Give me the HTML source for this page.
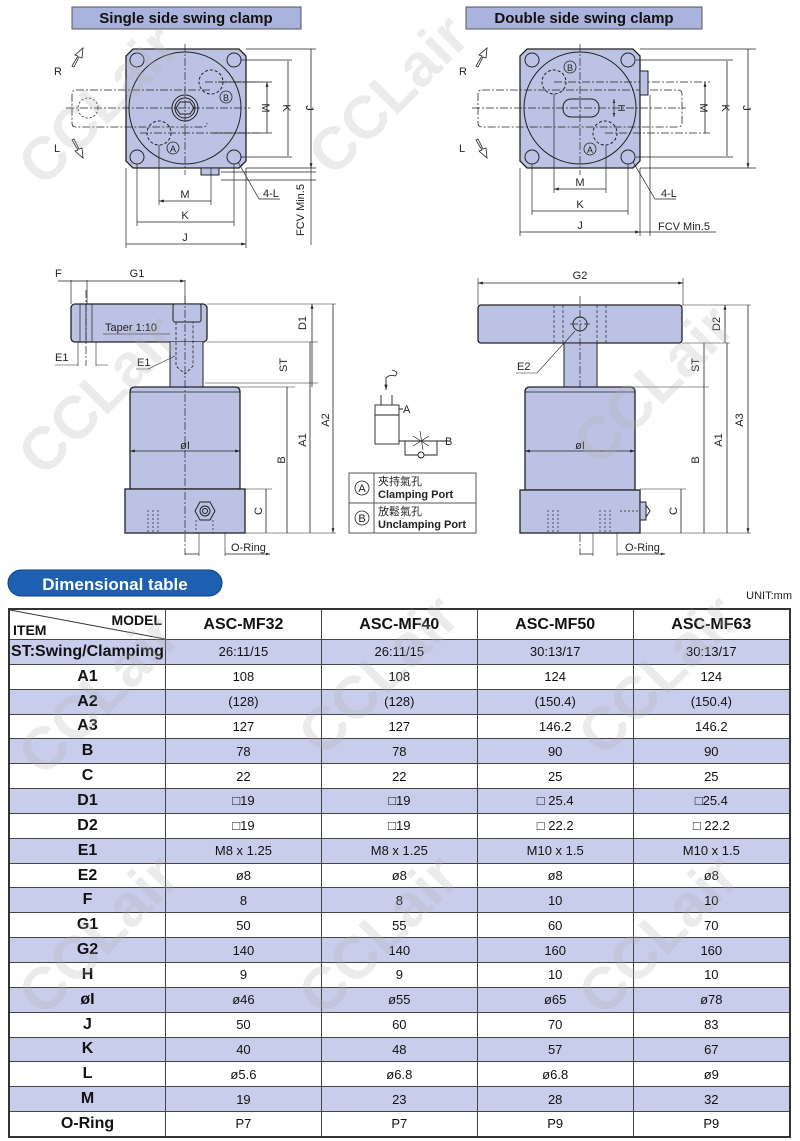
<!DOCTYPE html>
<html><head><meta charset="utf-8">
<style>
body{margin:0;background:#fff;width:800px;height:1141px;overflow:hidden;position:relative;font-family:"Liberation Sans",sans-serif}
svg{position:absolute;left:0;top:0}
.wm{position:absolute;font:bold 60px "Liberation Sans",sans-serif;color:rgba(175,175,175,0.25);transform:rotate(-45deg);white-space:nowrap}
table{position:absolute;left:8px;top:608px;width:783px;border-collapse:collapse;border:2px solid #333}
td{border:1px solid #444;text-align:center;height:23.85px;padding:0;font-size:13px;color:#111}
td.i{font-weight:bold;font-size:16px;width:155px}
tr.b td{background:#c8cdeb}
tr.h td{height:29px;font-weight:bold;font-size:16px}
</style></head><body>
<svg width="800" height="1141" viewBox="0 0 800 1141" font-family="Liberation Sans, sans-serif" font-size="11" fill="none" stroke="#222">
<defs>
<marker id="a" viewBox="0 0 10 10" refX="10" refY="5" markerWidth="6" markerHeight="6" orient="auto-start-reverse"><path d="M0,2L10,5L0,8z" fill="#222" stroke="none"/></marker>
</defs>
<rect x="72" y="7" width="229" height="22" fill="#a9b3de" stroke="#555"/>
<text x="186" y="23" text-anchor="middle" font-size="15" font-weight="bold" fill="#111" stroke="none">Single side swing clamp</text>
<rect x="466" y="7" width="236" height="22" fill="#a9b3de" stroke="#555"/>
<text x="584" y="23" text-anchor="middle" font-size="15" font-weight="bold" fill="#111" stroke="none">Double side swing clamp</text>

<g stroke-width="1">
<path d="M133,49H239L246,56V161L239,168H133L126,161V56Z" fill="#bcc2e3" stroke="#222" stroke-width="1.3"/>
<circle cx="185" cy="108" r="56"/>
<g fill="none"><circle cx="137" cy="60" r="7"/><circle cx="234" cy="60" r="7"/><circle cx="137" cy="157" r="7"/><circle cx="234" cy="157" r="7"/></g>
<circle cx="185" cy="108" r="13"/><circle cx="185" cy="108" r="10"/><path d="M180,102h10l4,6l-4,6h-10l-4,-6z"/>
<circle cx="159" cy="133" r="12" stroke-dasharray="3,2"/><circle cx="211" cy="82" r="12" stroke-dasharray="3,2"/>
<circle cx="173" cy="148" r="6" stroke-width="0.8"/><text x="173" y="152" font-size="9" text-anchor="middle" fill="#222" stroke="none">A</text>
<circle cx="226" cy="97" r="6" stroke-width="0.8"/><text x="226" y="101" font-size="9" text-anchor="middle" fill="#222" stroke="none">B</text>
<path d="M210,90H76Q72,90 72,94V123Q72,127 76,127H203Q207,127 207,123" stroke-dasharray="8,2,2,2" stroke-width="0.8"/>
<circle cx="88" cy="108" r="10" stroke-dasharray="2,2" stroke-width="0.8"/>
<path d="M66,108H250M185,44V175M140,133H262M205,82H262" stroke-dasharray="8,2,2,2" stroke-width="0.7"/>
<rect x="201" y="168" width="18" height="7" fill="#bcc2e3"/>
<path d="M72,66l6,-10l-3,-1l8,-7l-1,10l-3,-1l-5,10z" stroke-width="0.8"/><text x="54" y="75" font-size="11" fill="#222" stroke="none">R</text>
<path d="M72,140l6,10l-3,1l8,7l-1,-10l-3,1l-5,-10z" stroke-width="0.8"/><text x="54" y="152" font-size="11" fill="#222" stroke="none">L</text>
<path d="M246,49H316M241,60H292M218,82H272M213,133H272M241,157H292M246,168H316M221,172H316M221,180H316" stroke-width="0.7"/>
<path d="M267,82V133M288,61V156M311,49V168" marker-start="url(#a)" marker-end="url(#a)" stroke-width="0.8"/>
<text x="0" y="0" transform="translate(262,108) rotate(90)" text-anchor="middle" font-size="11" fill="#222" stroke="none">M</text>
<text x="0" y="0" transform="translate(283,108) rotate(90)" text-anchor="middle" font-size="11" fill="#222" stroke="none">K</text>
<text x="0" y="0" transform="translate(306,108) rotate(90)" text-anchor="middle" font-size="11" fill="#222" stroke="none">J</text>
<path d="M311,168V245" stroke-width="0.7"/>
<text x="0" y="0" transform="translate(304,210) rotate(-90)" text-anchor="middle" font-size="11" fill="#222" stroke="none">FCV Min.5</text>
<path d="M159,145V205M211,168V205M137,164V226M234,164V226M126,168V248M246,168V248" stroke-width="0.7"/>
<path d="M159,201H211M137,222H234M126,244H246" marker-start="url(#a)" marker-end="url(#a)" stroke-width="0.8"/>
<text x="185" y="198" text-anchor="middle" fill="#222" stroke="none">M</text>
<text x="185" y="219" text-anchor="middle" fill="#222" stroke="none">K</text>
<text x="185" y="241" text-anchor="middle" fill="#222" stroke="none">J</text>
<path d="M238,162L259,199H280" stroke-width="0.7"/><text x="263" y="197" fill="#222" stroke="none">4-L</text>
</g>

<g stroke-width="1">
<path d="M527,49H633L640,56V161L633,168H527L520,161V56Z" fill="#bcc2e3" stroke="#222" stroke-width="1.3"/>
<circle cx="580" cy="108" r="56"/>
<circle cx="532" cy="60" r="7"/><circle cx="628" cy="60" r="7"/><circle cx="532" cy="157" r="7"/><circle cx="628" cy="157" r="7"/>
<rect x="563" y="99" width="36" height="18" rx="8"/>
<circle cx="554" cy="82" r="12" stroke-dasharray="3,2"/><circle cx="605" cy="133" r="12" stroke-dasharray="3,2"/>
<circle cx="570" cy="67" r="6" stroke-width="0.8"/><text x="570" y="71" font-size="9" text-anchor="middle" fill="#222" stroke="none">B</text>
<circle cx="590" cy="149" r="6" stroke-width="0.8"/><text x="590" y="153" font-size="9" text-anchor="middle" fill="#222" stroke="none">A</text>
<path d="M482,90H678Q682,90 682,94V123Q682,127 678,127H482Q478,127 478,123V94Q478,90 482,90" stroke-dasharray="8,2,2,2" stroke-width="0.8"/>
<path d="M472,108H686M580,44V175M554,82H710M605,133H710" stroke-dasharray="8,2,2,2" stroke-width="0.7"/>
<rect x="640" y="71" width="8" height="24" fill="#bcc2e3"/>
<path d="M614,99V117" marker-start="url(#a)" marker-end="url(#a)" stroke-width="0.7"/><text x="0" y="0" transform="translate(618,108) rotate(90)" text-anchor="middle" font-size="10" fill="#222" stroke="none">H</text>
<path d="M476,66l6,-10l-3,-1l8,-7l-1,10l-3,-1l-5,10z" stroke-width="0.8"/><text x="459" y="75" fill="#222" stroke="none">R</text>
<path d="M476,140l6,10l-3,1l8,7l-1,-10l-3,1l-5,-10z" stroke-width="0.8"/><text x="459" y="152" fill="#222" stroke="none">L</text>
<path d="M640,49H756M636,60H733M636,157H733M640,168H756" stroke-width="0.7"/>
<path d="M705,82V133M727,61V156M748,49V168" marker-start="url(#a)" marker-end="url(#a)" stroke-width="0.8"/>
<text x="0" y="0" transform="translate(700,108) rotate(90)" text-anchor="middle" fill="#222" stroke="none">M</text>
<text x="0" y="0" transform="translate(722,108) rotate(90)" text-anchor="middle" fill="#222" stroke="none">K</text>
<text x="0" y="0" transform="translate(743,108) rotate(90)" text-anchor="middle" fill="#222" stroke="none">J</text>
<path d="M554,94V193M606,145V193M532,164V215M628,164V215M520,168V236M640,168V236M650,95V236" stroke-width="0.7"/>
<path d="M554,189H606M532,211H628M520,232H640" marker-start="url(#a)" marker-end="url(#a)" stroke-width="0.8"/>
<path d="M640,232H716" stroke-width="0.7"/>
<text x="580" y="186" text-anchor="middle" fill="#222" stroke="none">M</text>
<text x="580" y="208" text-anchor="middle" fill="#222" stroke="none">K</text>
<text x="580" y="229" text-anchor="middle" fill="#222" stroke="none">J</text>
<text x="658" y="230" fill="#222" stroke="none">FCV Min.5</text>
<path d="M633,162L655,199H676" stroke-width="0.7"/><text x="661" y="197" fill="#222" stroke="none">4-L</text>
</g>

<g stroke-width="1">
<rect x="71" y="304" width="136" height="38" rx="4" fill="#bcc2e3" stroke-width="1.3"/>
<path d="M170,342V387H203V342" fill="#bcc2e3"/>
<rect x="173" y="304" width="28" height="18" rx="2" fill="#bcc2e3"/>
<path d="M176,322V366L185,374L193,366V322" stroke-dasharray="3,2" stroke-width="0.8"/>
<path d="M80,304V342M86,304V342M92,304V342" stroke-width="0.7"/>
<path d="M130,392Q130,387 135,387H235Q240,387 240,392V489H130Z" fill="#bcc2e3" stroke-width="1.3"/>
<rect x="125" y="489" width="120" height="44" fill="#bcc2e3" stroke-width="1.3"/>
<path d="M130,392H240" stroke-width="0.7"/>
<path d="M185,296V555M86,290V366" stroke-dasharray="8,2,2,2" stroke-width="0.7"/>
<path d="M200,502l10,0l5,9l-5,9h-10l-5,-9z" fill="#bcc2e3"/><circle cx="205" cy="511" r="5"/><circle cx="205" cy="511" r="2.5"/>
<path d="M148,510V533M153,510V533M158,510V533M196,520V533M213,520V533" stroke-dasharray="2,2" stroke-width="0.7"/>
<path d="M71,280V304M87,280V304M185,280V304" stroke-width="0.7"/>
<path d="M58,281H71M87,281H185" marker-end="url(#a)" stroke-width="0.8"/><path d="M71,281H87" stroke-width="0.8"/>
<text x="55" y="277" fill="#222" stroke="none">F</text><text x="137" y="277" fill="#222" stroke="none" text-anchor="middle">G1</text>
<text x="105" y="331" fill="#222" stroke="none">Taper 1:10</text><path d="M103,334H170" stroke-width="0.6"/>
<path d="M78,342V366M96,342V366M55,365H78M96,365H108" stroke-width="0.6"/><text x="55" y="361" fill="#222" stroke="none">E1</text>
<path d="M148,369L175,356M136,369H150" stroke-width="0.6"/><text x="137" y="366" fill="#222" stroke="none">E1</text>
<path d="M130,451H240" marker-start="url(#a)" marker-end="url(#a)" stroke-width="0.8"/><text x="185" y="449" text-anchor="middle" fill="#222" stroke="none">øI</text>
<path d="M207,304H336M207,342H318M205,383H318M205,387H295M245,489H272M245,533H336" stroke-width="0.6"/>
<path d="M312,304V342M312,342V387M287,387V533M266,489V533M310,342V533M333,304V533" marker-start="url(#a)" marker-end="url(#a)" stroke-width="0.8"/>
<text x="0" y="0" transform="translate(306,323) rotate(-90)" text-anchor="middle" fill="#222" stroke="none">D1</text>
<text x="0" y="0" transform="translate(287,365) rotate(-90)" text-anchor="middle" fill="#222" stroke="none">ST</text>
<text x="0" y="0" transform="translate(285,460) rotate(-90)" text-anchor="middle" fill="#222" stroke="none">B</text>
<text x="0" y="0" transform="translate(262,511) rotate(-90)" text-anchor="middle" fill="#222" stroke="none">C</text>
<text x="0" y="0" transform="translate(306,440) rotate(-90)" text-anchor="middle" fill="#222" stroke="none">A1</text>
<text x="0" y="0" transform="translate(329,420) rotate(-90)" text-anchor="middle" fill="#222" stroke="none">A2</text>
<path d="M199,533V556M225,533V556" stroke-width="0.6"/><path d="M185,554H199M225,554H270" marker-end="url(#a)" stroke-width="0.7"/>
<text x="231" y="551" fill="#222" stroke="none">O-Ring</text>
</g>

<g stroke-width="1">
<rect x="478" y="305" width="204" height="38" rx="3" fill="#bcc2e3" stroke-width="1.3"/>
<rect x="564" y="343" width="33" height="44" fill="#bcc2e3"/>
<path d="M554,305V343M563,305V343M597,305V343M606,305V343" stroke-dasharray="3,2" stroke-width="0.7"/>
<circle cx="580" cy="324" r="7"/><path d="M570,324H590M580,296V555" stroke-dasharray="8,2,2,2" stroke-width="0.7"/>
<path d="M525,392Q525,387 530,387H630Q635,387 635,392V490H525Z" fill="#bcc2e3" stroke-width="1.3"/>
<rect x="520" y="490" width="120" height="43" fill="#bcc2e3" stroke-width="1.3"/>
<path d="M525,392H635" stroke-width="0.7"/>
<rect x="640" y="502" width="6" height="18" fill="#bcc2e3"/><path d="M646,505l4,6l-4,6"/>
<path d="M548,510V533M553,510V533M558,510V533M600,510V533M605,510V533M610,510V533M620,511H640" stroke-dasharray="2,2" stroke-width="0.7"/>
<path d="M478,278V305M683,278V305" stroke-width="0.6"/>
<path d="M478,283H683" marker-start="url(#a)" marker-end="url(#a)" stroke-width="0.8"/>
<text x="580" y="279" text-anchor="middle" fill="#222" stroke="none">G2</text>
<path d="M575,331L537,373H516" stroke-width="0.6"/><text x="517" y="370" fill="#222" stroke="none">E2</text>
<path d="M525,451H635" marker-start="url(#a)" marker-end="url(#a)" stroke-width="0.8"/><text x="580" y="449" text-anchor="middle" fill="#222" stroke="none">øI</text>
<path d="M682,305H751M682,343H730M597,387H709M640,489H686M640,533H751" stroke-width="0.6"/>
<path d="M725,305V343M704,343V387M704,387V533M681,489V533M727,343V533M748,305V533" marker-start="url(#a)" marker-end="url(#a)" stroke-width="0.8"/>
<text x="0" y="0" transform="translate(720,324) rotate(-90)" text-anchor="middle" fill="#222" stroke="none">D2</text>
<text x="0" y="0" transform="translate(699,365) rotate(-90)" text-anchor="middle" fill="#222" stroke="none">ST</text>
<text x="0" y="0" transform="translate(699,460) rotate(-90)" text-anchor="middle" fill="#222" stroke="none">B</text>
<text x="0" y="0" transform="translate(677,511) rotate(-90)" text-anchor="middle" fill="#222" stroke="none">C</text>
<text x="0" y="0" transform="translate(722,440) rotate(-90)" text-anchor="middle" fill="#222" stroke="none">A1</text>
<text x="0" y="0" transform="translate(743,420) rotate(-90)" text-anchor="middle" fill="#222" stroke="none">A3</text>
<path d="M593,533V556M617,533V556" stroke-width="0.6"/><path d="M580,554H593M617,554H665" marker-end="url(#a)" stroke-width="0.7"/>
<text x="625" y="551" fill="#222" stroke="none">O-Ring</text>
</g>

<g stroke-width="0.9">
<rect x="375" y="405" width="24" height="39"/><path d="M375,415H399M381,395V405M392,395V405M399,409H403"/>
<path d="M386,378V390" marker-end="url(#a)"/><path d="M386,378Q390,374 395,376Q400,372 392,370"/>
<path d="M399,441H450M405,441V455H437V441"/><circle cx="421" cy="455" r="3" fill="#fff"/>
<path d="M413,446L429,436M413,436L429,446M420,431L423,450" stroke-width="0.7"/>
<text x="403" y="413" fill="#222" stroke="none">A</text><text x="445" y="445" fill="#222" stroke="none">B</text>
</g>
<rect x="349" y="473" width="127" height="60" stroke="#555"/><path d="M349,503H476M374,473V533" stroke="#555"/>
<circle cx="362" cy="488" r="7" stroke-width="0.8"/><text x="362" y="492" text-anchor="middle" fill="#222" stroke="none">A</text>
<circle cx="362" cy="518" r="7" stroke-width="0.8"/><text x="362" y="522" text-anchor="middle" fill="#222" stroke="none">B</text>
<text x="378" y="485" font-size="11" fill="#222" stroke="none" font-family="Liberation Sans, Noto Sans CJK TC, sans-serif">夾持氣孔</text>
<text x="378" y="498" font-size="11" font-weight="bold" fill="#222" stroke="none">Clamping Port</text>
<text x="378" y="515" font-size="11" fill="#222" stroke="none" font-family="Liberation Sans, Noto Sans CJK TC, sans-serif">放鬆氣孔</text>
<text x="378" y="528" font-size="11" font-weight="bold" fill="#222" stroke="none">Unclamping Port</text>

<rect x="8" y="570" width="214" height="26" rx="13" fill="#1d5fb0" stroke="#0c3f80"/>
<text x="115" y="590" text-anchor="middle" font-size="17" font-weight="bold" fill="#fff" stroke="none">Dimensional table</text>
<text x="792" y="599" text-anchor="end" font-size="11" fill="#222" stroke="none">UNIT:mm</text>
</svg>

<table>
<tr class="h"><td class="i" style="position:relative;text-align:left"><svg width="155" height="29" style="position:absolute;left:0;top:0"><line x1="0" y1="0" x2="155" y2="29" stroke="#333"/></svg><span style="position:absolute;left:3px;bottom:1px;font-size:14px">ITEM</span><span style="position:absolute;right:3px;top:2px;font-size:14px">MODEL</span></td><td>ASC-MF32</td><td>ASC-MF40</td><td>ASC-MF50</td><td>ASC-MF63</td></tr>
<tr class="b"><td class="i">ST:Swing/Clampimg</td><td>26:11/15</td><td>26:11/15</td><td>30:13/17</td><td>30:13/17</td></tr>
<tr><td class="i">A1</td><td>108</td><td>108</td><td>124</td><td>124</td></tr>
<tr class="b"><td class="i">A2</td><td>(128)</td><td>(128)</td><td>(150.4)</td><td>(150.4)</td></tr>
<tr><td class="i">A3</td><td>127</td><td>127</td><td>146.2</td><td>146.2</td></tr>
<tr class="b"><td class="i">B</td><td>78</td><td>78</td><td>90</td><td>90</td></tr>
<tr><td class="i">C</td><td>22</td><td>22</td><td>25</td><td>25</td></tr>
<tr class="b"><td class="i">D1</td><td>□19</td><td>□19</td><td>□ 25.4</td><td>□25.4</td></tr>
<tr><td class="i">D2</td><td>□19</td><td>□19</td><td>□ 22.2</td><td>□ 22.2</td></tr>
<tr class="b"><td class="i">E1</td><td>M8 x 1.25</td><td>M8 x 1.25</td><td>M10 x 1.5</td><td>M10 x 1.5</td></tr>
<tr><td class="i">E2</td><td>ø8</td><td>ø8</td><td>ø8</td><td>ø8</td></tr>
<tr class="b"><td class="i">F</td><td>8</td><td>8</td><td>10</td><td>10</td></tr>
<tr><td class="i">G1</td><td>50</td><td>55</td><td>60</td><td>70</td></tr>
<tr class="b"><td class="i">G2</td><td>140</td><td>140</td><td>160</td><td>160</td></tr>
<tr><td class="i">H</td><td>9</td><td>9</td><td>10</td><td>10</td></tr>
<tr class="b"><td class="i">øI</td><td>ø46</td><td>ø55</td><td>ø65</td><td>ø78</td></tr>
<tr><td class="i">J</td><td>50</td><td>60</td><td>70</td><td>83</td></tr>
<tr class="b"><td class="i">K</td><td>40</td><td>48</td><td>57</td><td>67</td></tr>
<tr><td class="i">L</td><td>ø5.6</td><td>ø6.8</td><td>ø6.8</td><td>ø9</td></tr>
<tr class="b"><td class="i">M</td><td>19</td><td>23</td><td>28</td><td>32</td></tr>
<tr><td class="i">O-Ring</td><td>P7</td><td>P7</td><td>P9</td><td>P9</td></tr>
</table>

<div class="wm" style="left:0px;top:70px">CCLair</div>
<div class="wm" style="left:290px;top:60px">CCLair</div>
<div class="wm" style="left:0px;top:360px">CCLair</div>
<div class="wm" style="left:555px;top:350px">CCLair</div>
<div class="wm" style="left:280px;top:640px">CCLair</div>
<div class="wm" style="left:0px;top:660px">CCLair</div>
<div class="wm" style="left:560px;top:640px">CCLair</div>
<div class="wm" style="left:0px;top:900px">CCLair</div>
<div class="wm" style="left:280px;top:900px">CCLair</div>
<div class="wm" style="left:560px;top:900px">CCLair</div>
</body></html>
